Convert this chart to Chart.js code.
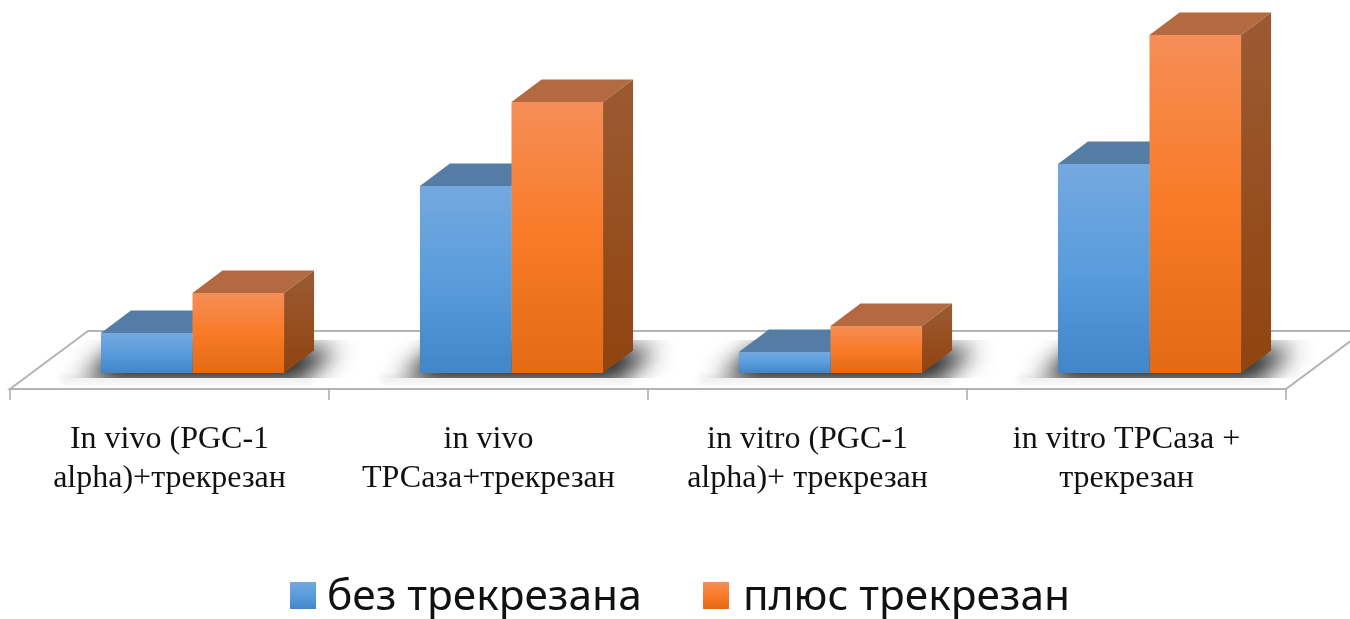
<!DOCTYPE html>
<html>
<head>
<meta charset="utf-8">
<title>Трекрезан</title>
<script src="https://cdn.jsdelivr.net/npm/chart.js@4"></script>
<style>
  html, body { margin: 0; background: #fff; }
  canvas { display: block; }
</style>
</head>
<body>
<canvas id="barChart" width="1350" height="619"></canvas>
<script>
const categories = [
    ['In vivo (PGC-1', 'alpha)+трекрезан'],
    ['in vivo', 'ТРСаза+трекрезан'],
    ['in vitro (PGC-1', 'alpha)+ трекрезан'],
    ['in vitro ТРСаза +', 'трекрезан']
];
const seriesNames = ['без трекрезана', 'плюс трекрезан'];
const withoutValues = [4.0, 18.7, 2.1, 20.9];
const withValues = [8.0, 27.1, 4.7, 33.8];

// front, top and side colours of each series
const frontStops = [
    ['#74a9df', '#5a9cdc', '#4286c8'],
    ['#f58e57', '#f97a27', '#e36a14']
];
const topColors = ['#557ca5', '#b46a40'];
const sideStops = [
    ['#4a6f96', '#3a628c'],
    ['#9c5a33', '#90440f']
];

const DEPTH_X = 30;
const DEPTH_Y = 22.5;
const FLOOR_DEPTH_X = 78;
const FLOOR_DEPTH_Y = 58;
const FLOOR_SHIFT = 23;

function verticalGradient(ctx, top, bottom, stops) {
    const g = ctx.createLinearGradient(0, top, 0, bottom);
    stops.forEach((c, i) => g.addColorStop(i / (stops.length - 1), c));
    return g;
}

// floor of the 3D box with the soft shadows under each bar pair
const floorPlugin = {
    id: 'floor',
    beforeDatasetsDraw(chart) {
        const { ctx, chartArea } = chart;
        const base = chartArea.bottom;
        const front = base + 16;
        const left = chartArea.left - FLOOR_SHIFT;
        const right = chartArea.right - FLOOR_SHIFT;

        ctx.save();
        ctx.beginPath();
        ctx.moveTo(left, front);
        ctx.lineTo(right, front);
        ctx.lineTo(right + FLOOR_DEPTH_X, front - FLOOR_DEPTH_Y);
        ctx.lineTo(left + FLOOR_DEPTH_X, front - FLOOR_DEPTH_Y);
        ctx.closePath();
        ctx.fillStyle = '#ffffff';
        ctx.fill();
        ctx.strokeStyle = '#b4b4b4';
        ctx.lineWidth = 2;
        ctx.stroke();

        // tick marks between the categories
        ctx.lineWidth = 1.5;
        ctx.strokeStyle = '#a8a8a8';
        for (let i = 0; i <= categories.length; i++) {
            const tx = left + (right - left) * i / categories.length;
            ctx.beginPath();
            ctx.moveTo(tx, front);
            ctx.lineTo(tx, front + 11);
            ctx.stroke();
        }
        ctx.restore();

        // faint glow on the floor in front of the bars
        ctx.save();
        ctx.filter = 'blur(3px)';
        ctx.fillStyle = 'rgba(0,0,0,0.07)';
        categories.forEach((_, i) => {
            const a = chart.getDatasetMeta(0).data[i];
            const b = chart.getDatasetMeta(1).data[i];
            ctx.fillRect(a.x - a.width / 2 - 40, base + 3, a.width + b.width + 70, 7);
        });
        ctx.restore();

        // shadows stay inside a band on the floor
        ctx.save();
        ctx.beginPath();
        ctx.rect(0, base - 33, chart.width, 38);
        ctx.clip();
        ctx.filter = 'blur(12px)';
        ctx.fillStyle = 'rgba(10,10,10,1)';
        categories.forEach((_, i) => {
            const a = chart.getDatasetMeta(0).data[i];
            const b = chart.getDatasetMeta(1).data[i];
            const l = a.x - a.width / 2;
            const r = b.x + b.width / 2;
            ctx.beginPath();
            ctx.moveTo(l - 20, base + 8);
            ctx.lineTo(r + 14, base + 8);
            ctx.lineTo(r + 54, base - 24);
            ctx.lineTo(l + 16, base - 24);
            ctx.closePath();
            ctx.fill();
        });
        ctx.restore();

        // top and side faces go under the fronts drawn by the bar controller
        ctx.save();
        [0, 1].forEach(ds => {
            chart.getDatasetMeta(ds).data.forEach(bar => {
                const l = bar.x - bar.width / 2;
                const r = bar.x + bar.width / 2;
                ctx.fillStyle = topColors[ds];
                ctx.beginPath();
                ctx.moveTo(l, bar.y);
                ctx.lineTo(l + DEPTH_X, bar.y - DEPTH_Y);
                ctx.lineTo(r + DEPTH_X, bar.y - DEPTH_Y);
                ctx.lineTo(r, bar.y);
                ctx.closePath();
                ctx.fill();

                ctx.fillStyle = verticalGradient(ctx, bar.y - DEPTH_Y, bar.base, sideStops[ds]);
                ctx.beginPath();
                ctx.moveTo(r, bar.y);
                ctx.lineTo(r + DEPTH_X, bar.y - DEPTH_Y);
                ctx.lineTo(r + DEPTH_X, bar.base - DEPTH_Y);
                ctx.lineTo(r, bar.base);
                ctx.closePath();
                ctx.fill();
            });
        });
        ctx.restore();
    }
};

// legend row under the axis labels
const legendRow = {
    id: 'legendRow',
    afterDraw(chart) {
        const { ctx } = chart;
        const boxX = [290, 703];
        const textX = [327, 743];
        ctx.save();
        ctx.font = '42.4px "Noto Sans"';
        ctx.textBaseline = 'alphabetic';
        seriesNames.forEach((name, i) => {
            ctx.fillStyle = verticalGradient(ctx, 582, 609, frontStops[i]);
            ctx.fillRect(boxX[i], 582, 26, 27);
            ctx.fillStyle = '#111111';
            ctx.fillText(name, textX[i], 610);
        });
        ctx.restore();
    }
};

function frontFill(ds) {
    return function (context) {
        const y = context.chart.scales.y;
        if (!y || context.raw === undefined) return frontStops[ds][1];
        const top = y.getPixelForValue(context.raw);
        const bottom = y.getPixelForValue(0);
        if (!Number.isFinite(top) || !Number.isFinite(bottom)) return frontStops[ds][1];
        return verticalGradient(context.chart.ctx, top, bottom, frontStops[ds]);
    };
}

const chart = new Chart(document.getElementById('barChart'), {
    type: 'bar',
    data: {
        labels: categories,
        datasets: [
            { label: seriesNames[0], data: withoutValues, backgroundColor: frontFill(0) },
            { label: seriesNames[1], data: withValues, backgroundColor: frontFill(1) }
        ]
    },
    plugins: [floorPlugin, legendRow],
    options: {
        responsive: false,
        animation: false,
        layout: { padding: { left: 33, right: 41, top: 13, bottom: 0 } },
        datasets: { bar: { categoryPercentage: 0.574, barPercentage: 1 } },
        scales: {
            x: {
                grid: { display: false },
                border: { display: false },
                afterFit: scale => { scale.height = 246; },
                ticks: {
                    autoSkip: false,
                    maxRotation: 0,
                    labelOffset: -FLOOR_SHIFT,
                    padding: 40,
                    color: '#111111',
                    font: { family: '"Liberation Serif"', size: 32, lineHeight: 1.19 }
                }
            },
            y: { display: false, min: 0, max: 36 }
        },
        plugins: {
            tooltip: { enabled: false },
            legend: { display: false }
        }
    }
});
</script>
</body>
</html>
